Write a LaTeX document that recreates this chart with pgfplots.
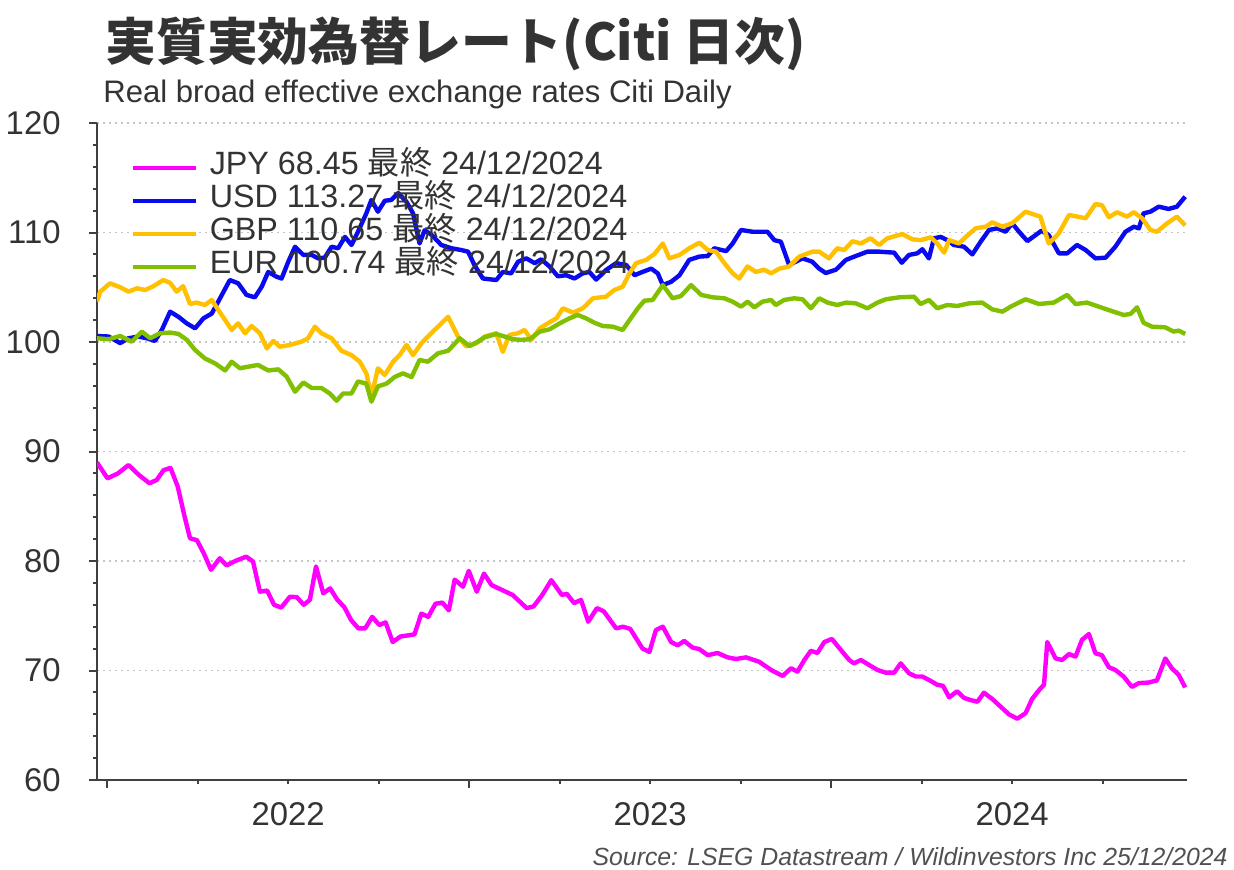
\documentclass[border=0pt]{standalone}
\usepackage{fontspec}
\setmainfont{Liberation Sans}
\newfontfamily\cjk{Noto Sans CJK JP}
\usepackage{pgfplots}
\pgfplotsset{compat=1.18}
\definecolor{cJPY}{HTML}{FF00FF}
\definecolor{cUSD}{HTML}{0A0AF0}
\definecolor{cGBP}{HTML}{FFC000}
\definecolor{cEUR}{HTML}{80C000}
\definecolor{axisgray}{HTML}{404040}
\definecolor{txtgray}{HTML}{333333}
\definecolor{gridgray}{HTML}{C4C4C4}
\definecolor{srcgray}{HTML}{505050}
\begin{document}
\begin{tikzpicture}
\path[use as bounding box] (-48.5bp,-45bp) rectangle (568.5bp,390bp);
\begin{axis}[
  at={(0,0)}, anchor=south west,
  scale only axis, width=545bp, height=328.5bp,
  xmin=-0.028, xmax=2.983, ymin=60, ymax=120,
  axis x line*=bottom, axis y line*=left,
  axis line style={-, line width=1bp, color=axisgray},
  every tick/.style={line width=1bp, color=axisgray},
  tick align=outside,
  major tick length=4bp, minor tick length=2bp,
  xtick={0,1,2}, xticklabels={},
  minor xtick={0.25,0.5,0.75,1.25,1.5,1.75,2.25,2.5,2.75},
  extra x ticks={0.5,1.5,2.5}, extra x tick labels={2022,2023,2024},
  extra x tick style={major tick length=0pt},
  ytick={60,70,...,120}, minor y tick num=4,
  ymajorgrids,
  grid style={dash pattern=on 1bp off 2bp, line width=0.9bp, color=gridgray},
  /pgf/number format/assume math mode=true,
  ticklabel style={font=\fontsize{16.5}{18}\selectfont, text=txtgray},
  yticklabel style={anchor=east, inner sep=0pt, xshift=-14bp},
  xticklabel style={anchor=north, inner sep=0pt, yshift=-11bp},
  legend style={at={(0.0303,0.9574)}, anchor=north west, draw=none, fill=none,
    inner sep=0pt, row sep=0pt, font=\fontsize{16.2}{16.5}\selectfont, text=txtgray,
    nodes={inner sep=0pt, text height=11.8bp, text depth=4.7bp},
    /tikz/every odd column/.append style={column sep=6bp}},
  legend cell align=left,
  legend image code/.code={\draw[#1] (0bp,0bp) -- (31.5bp,0bp);},
  every axis plot/.append style={line width=2.2bp, line join=round},
]
\addplot[cJPY] table {
x y
-0.028 89.0
0.001 87.55
0.030 88.0
0.059 88.77
0.088 87.85
0.117 87.1
0.137 87.4
0.156 88.3
0.175 88.5
0.195 86.8
0.214 84.05
0.229 82.07
0.248 81.9
0.267 80.7
0.287 79.2
0.311 80.25
0.330 79.6
0.354 80.0
0.384 80.4
0.403 79.95
0.422 77.2
0.442 77.3
0.461 76.0
0.481 75.75
0.505 76.74
0.524 76.7
0.543 76.0
0.560 76.45
0.577 79.5
0.597 77.05
0.616 77.5
0.636 76.45
0.655 75.8
0.674 74.6
0.694 73.85
0.713 73.85
0.732 74.9
0.752 74.15
0.769 74.4
0.789 72.6
0.810 73.1
0.849 73.3
0.868 75.2
0.887 74.9
0.907 76.1
0.926 76.2
0.944 75.5
0.960 78.3
0.983 77.65
0.999 79.1
1.021 77.2
1.041 78.85
1.062 77.8
1.091 77.35
1.120 76.9
1.159 75.7
1.178 75.85
1.202 76.9
1.227 78.25
1.256 76.9
1.270 77.0
1.290 76.15
1.309 76.45
1.329 74.45
1.353 75.7
1.372 75.4
1.406 73.85
1.425 74.0
1.445 73.8
1.479 72.0
1.498 71.7
1.516 73.7
1.535 74.0
1.558 72.6
1.576 72.3
1.594 72.7
1.617 72.1
1.636 71.95
1.659 71.4
1.686 71.6
1.714 71.2
1.737 71.05
1.765 71.2
1.801 70.8
1.834 70.05
1.866 69.5
1.889 70.2
1.907 69.9
1.926 70.96
1.944 71.8
1.962 71.6
1.981 72.6
2.002 72.88
2.027 71.87
2.050 70.96
2.063 70.65
2.082 70.96
2.105 70.5
2.128 70.05
2.151 69.8
2.174 69.8
2.192 70.65
2.215 69.75
2.234 69.45
2.252 69.45
2.275 69.05
2.293 68.7
2.309 68.6
2.326 67.55
2.348 68.1
2.367 67.5
2.385 67.3
2.404 67.15
2.422 67.97
2.445 67.4
2.468 66.7
2.491 66.0
2.514 65.6
2.537 66.1
2.555 67.4
2.574 68.2
2.588 68.7
2.597 72.6
2.620 71.1
2.638 70.96
2.657 71.5
2.675 71.27
2.693 72.8
2.712 73.33
2.730 71.57
2.748 71.4
2.767 70.3
2.785 70.05
2.808 69.45
2.831 68.5
2.850 68.85
2.877 68.9
2.900 69.1
2.923 71.1
2.941 70.2
2.960 69.6
2.978 68.45
};
\addlegendentry{JPY 68.45 {\cjk 最終} 24/12/2024}
\addplot[cUSD] table {
x y
-0.028 100.55
0.004 100.5
0.036 99.9
0.059 100.34
0.086 100.5
0.110 100.34
0.132 100.1
0.151 101.1
0.174 102.77
0.197 102.3
0.220 101.7
0.243 101.25
0.266 102.16
0.289 102.6
0.312 104.0
0.339 105.66
0.362 105.36
0.385 104.3
0.408 104.08
0.427 105.05
0.445 106.4
0.468 105.96
0.482 105.8
0.500 107.3
0.519 108.7
0.542 107.95
0.565 107.95
0.583 107.64
0.601 107.7
0.620 108.7
0.638 108.56
0.657 109.6
0.675 108.86
0.693 110.07
0.716 111.75
0.730 112.97
0.748 111.9
0.767 112.9
0.785 112.97
0.804 113.6
0.827 112.8
0.845 111.75
0.863 109.0
0.877 110.2
0.896 109.8
0.923 108.86
0.951 108.56
0.978 108.4
0.997 108.25
1.015 107.0
1.038 105.8
1.075 105.66
1.093 106.4
1.116 106.27
1.135 107.33
1.158 107.64
1.181 107.2
1.199 107.55
1.222 106.9
1.245 106.0
1.268 106.1
1.291 105.8
1.314 106.27
1.332 106.4
1.351 105.7
1.378 106.57
1.406 107.2
1.434 107.03
1.457 106.1
1.479 106.4
1.503 106.7
1.521 106.27
1.535 105.2
1.558 105.5
1.581 106.1
1.608 107.5
1.636 107.8
1.659 107.85
1.677 108.56
1.710 108.3
1.728 109.0
1.751 110.23
1.783 110.07
1.824 110.07
1.843 109.3
1.861 109.16
1.884 107.03
1.921 107.64
1.948 107.33
1.967 106.7
1.985 106.3
2.013 106.6
2.041 107.5
2.068 107.85
2.100 108.25
2.132 108.25
2.174 108.16
2.195 107.24
2.215 107.95
2.238 108.1
2.252 108.47
2.270 107.64
2.284 109.47
2.303 109.6
2.321 109.3
2.339 108.86
2.367 108.7
2.390 108.0
2.413 109.16
2.436 110.23
2.459 110.38
2.482 110.07
2.500 110.84
2.519 110.07
2.542 109.22
2.565 109.77
2.581 110.16
2.601 109.77
2.629 108.1
2.652 108.1
2.679 108.86
2.703 108.4
2.730 107.64
2.758 107.7
2.785 108.7
2.813 110.07
2.836 110.53
2.850 110.38
2.863 111.75
2.882 111.9
2.905 112.36
2.932 112.15
2.955 112.36
2.978 113.27
};
\addlegendentry{USD 113.27 {\cjk 最終} 24/12/2024}
\addplot[cGBP] table {
x y
-0.028 103.7
-0.019 104.6
0.008 105.36
0.036 105.0
0.059 104.6
0.082 104.9
0.105 104.75
0.128 105.1
0.155 105.66
0.174 105.4
0.192 104.6
0.210 105.1
0.229 103.47
0.247 103.6
0.270 103.38
0.289 103.84
0.307 102.92
0.326 102.0
0.344 101.1
0.362 101.7
0.381 100.8
0.399 101.46
0.422 100.8
0.441 99.42
0.459 100.1
0.477 99.57
0.505 99.73
0.537 100.03
0.555 100.34
0.574 101.4
0.592 100.8
0.620 100.34
0.647 99.2
0.675 98.8
0.698 98.2
0.716 97.14
0.730 95.0
0.748 97.6
0.767 96.99
0.790 98.2
0.808 98.8
0.827 99.73
0.845 98.8
0.868 99.88
0.886 100.5
0.914 101.4
0.942 102.3
0.969 100.5
0.992 99.6
1.020 99.88
1.043 100.5
1.075 100.8
1.093 99.1
1.111 100.64
1.135 100.8
1.153 101.1
1.172 100.2
1.195 101.25
1.217 101.7
1.241 102.16
1.259 103.08
1.287 102.68
1.314 103.08
1.342 103.99
1.378 104.14
1.401 104.75
1.424 105.05
1.443 106.27
1.461 107.2
1.489 107.5
1.512 108.04
1.535 109.0
1.553 107.64
1.581 107.95
1.608 108.56
1.636 109.07
1.659 108.4
1.682 108.25
1.705 107.2
1.728 106.27
1.746 105.8
1.769 106.9
1.792 106.4
1.815 106.6
1.834 106.27
1.857 106.7
1.884 106.9
1.912 107.8
1.948 108.25
1.967 108.25
1.994 107.64
2.017 108.56
2.036 108.4
2.059 109.2
2.082 109.0
2.109 109.47
2.132 108.86
2.155 109.47
2.197 109.86
2.224 109.38
2.247 109.3
2.275 109.56
2.293 109.0
2.312 108.16
2.326 109.3
2.353 109.0
2.372 109.6
2.399 110.38
2.427 110.53
2.445 110.93
2.473 110.53
2.500 110.84
2.537 111.9
2.578 111.45
2.601 109.0
2.629 109.93
2.657 111.6
2.703 111.3
2.730 112.6
2.748 112.5
2.767 111.4
2.790 111.85
2.817 111.45
2.836 111.85
2.859 111.3
2.882 110.23
2.900 110.07
2.928 110.84
2.955 111.45
2.978 110.65
};
\addlegendentry{GBP 110.65 {\cjk 最終} 24/12/2024}
\addplot[cEUR] table {
x y
-0.028 100.34
0.004 100.25
0.036 100.55
0.068 100.03
0.096 100.95
0.119 100.34
0.146 100.8
0.174 100.86
0.197 100.74
0.220 100.2
0.243 99.27
0.270 98.5
0.298 98.05
0.326 97.4
0.344 98.2
0.367 97.6
0.390 97.75
0.417 97.9
0.445 97.4
0.473 97.5
0.496 96.83
0.519 95.46
0.542 96.3
0.565 95.8
0.592 95.8
0.615 95.3
0.634 94.64
0.652 95.3
0.675 95.3
0.693 96.4
0.716 96.2
0.730 94.55
0.748 95.95
0.772 96.2
0.794 96.8
0.817 97.14
0.841 96.8
0.863 98.36
0.886 98.2
0.914 98.97
0.942 99.2
0.974 100.34
1.001 99.63
1.024 100.03
1.043 100.43
1.075 100.73
1.098 100.5
1.121 100.25
1.144 100.2
1.167 100.25
1.195 100.95
1.222 101.16
1.250 101.7
1.277 102.16
1.300 102.47
1.323 102.16
1.346 101.76
1.369 101.46
1.397 101.4
1.424 101.1
1.443 102.0
1.466 103.08
1.484 103.77
1.507 103.84
1.535 105.2
1.562 103.99
1.585 104.2
1.613 105.2
1.641 104.3
1.673 104.08
1.705 103.99
1.728 103.68
1.751 103.23
1.769 103.68
1.788 103.17
1.810 103.68
1.834 103.84
1.847 103.38
1.870 103.84
1.898 103.99
1.921 103.9
1.944 103.08
1.967 103.99
1.990 103.6
2.017 103.38
2.041 103.6
2.068 103.53
2.100 103.08
2.128 103.6
2.151 103.9
2.188 104.08
2.229 104.14
2.247 103.47
2.270 103.84
2.293 103.08
2.321 103.38
2.348 103.29
2.381 103.53
2.417 103.6
2.445 102.98
2.473 102.77
2.496 103.23
2.537 103.9
2.574 103.47
2.615 103.6
2.652 104.3
2.675 103.47
2.707 103.6
2.739 103.23
2.772 102.86
2.808 102.47
2.827 102.56
2.845 103.17
2.863 101.76
2.886 101.4
2.923 101.34
2.946 100.95
2.960 101.04
2.978 100.74
};
\addlegendentry{EUR 100.74 {\cjk 最終} 24/12/2024}
\end{axis}
\node[anchor=west, inner sep=0pt, text=txtgray] at (4bp,368bp)
  {\fontsize{25.5}{30}\selectfont\cjk\bfseries 実質実効為替レート(Citi 日次)};
\node[anchor=base west, inner sep=0pt, text=txtgray] at (3bp,338.5bp)
  {\fontsize{15.6}{18}\selectfont Real broad effective exchange rates Citi Daily};
\node[anchor=base east, inner sep=0pt, text=srcgray] at (565.5bp,-42.5bp)
  {\fontsize{12.45}{14}\selectfont\itshape Source: LSEG Datastream / Wildinvestors Inc 25/12/2024};
\end{tikzpicture}
\end{document}
